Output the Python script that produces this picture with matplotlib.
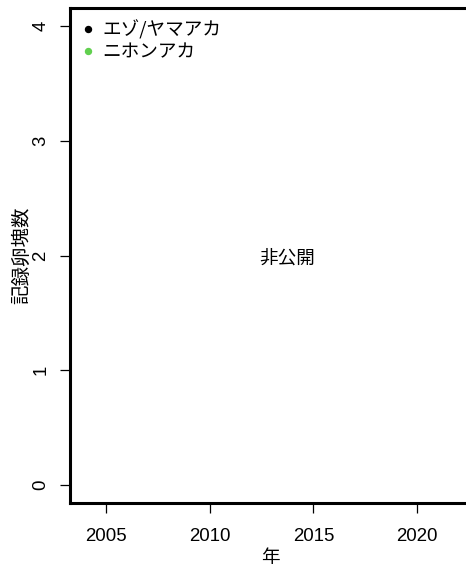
import matplotlib
matplotlib.use("Agg")
import matplotlib.pyplot as plt
from matplotlib.lines import Line2D

plt.rcParams['font.family'] = ['Liberation Sans', 'Noto Sans CJK JP', 'DejaVu Sans']

# Data (values not public -> no points)
species = ["エゾ/ヤマアカ", "ニホンアカ"]
colors = ["#000000", "#61D04F"]
years = {"エゾ/ヤマアカ": [], "ニホンアカ": []}
counts = {"エゾ/ヤマアカ": [], "ニホンアカ": []}
x_ticks = [2005, 2010, 2015, 2020]
y_ticks = [0, 1, 2, 3, 4]
x_range = (2003.26, 2022.6)
y_range = (-0.16, 4.16)
note = "非公開"
note_pos = (2013.73, 1.97)

fig = plt.figure(figsize=(4.66, 5.67), dpi=100)
ax = fig.add_axes([70/466, 64/567, 401/466, 495/567])

for sp, c in zip(species, colors):
    ax.plot(years[sp], counts[sp], 'o', color=c, ms=4.3)

ax.set_xlim(*x_range)
ax.set_ylim(*y_range)
ax.set_xticks(x_ticks)
ax.set_yticks(y_ticks)
ax.tick_params(axis='both', labelsize=13.4, width=0.9, length=7, color='black')
ax.tick_params(axis='x', pad=11)
ax.tick_params(axis='y', pad=8)
for lab in ax.get_yticklabels():
    lab.set_rotation(90)
    lab.set_va('center')
for s in ['left', 'top', 'bottom', 'right']:
    ax.spines[s].set_linewidth(2.2)

ax.set_xlabel("年", fontsize=13.4, labelpad=3, fontfamily=['Noto Sans CJK JP'])
ax.set_ylabel("記録卵塊数", fontsize=14, labelpad=0, fontfamily=['Noto Sans CJK JP'])

ax.text(note_pos[0], note_pos[1], note, ha='center', va='center',
        fontsize=13.4, fontfamily=['Noto Sans CJK JP'])

handles = [Line2D([], [], marker='o', ls='', color=c, ms=4.3) for c in colors]
leg = ax.legend(handles, species, loc='upper left', frameon=False,
                handlelength=0.6, handletextpad=0.5, labelspacing=0.2,
                borderaxespad=0.15, borderpad=0.5,
                prop={'family': ['Noto Sans CJK JP'], 'size': 13.4})

fig.savefig("out.png", dpi=100)
